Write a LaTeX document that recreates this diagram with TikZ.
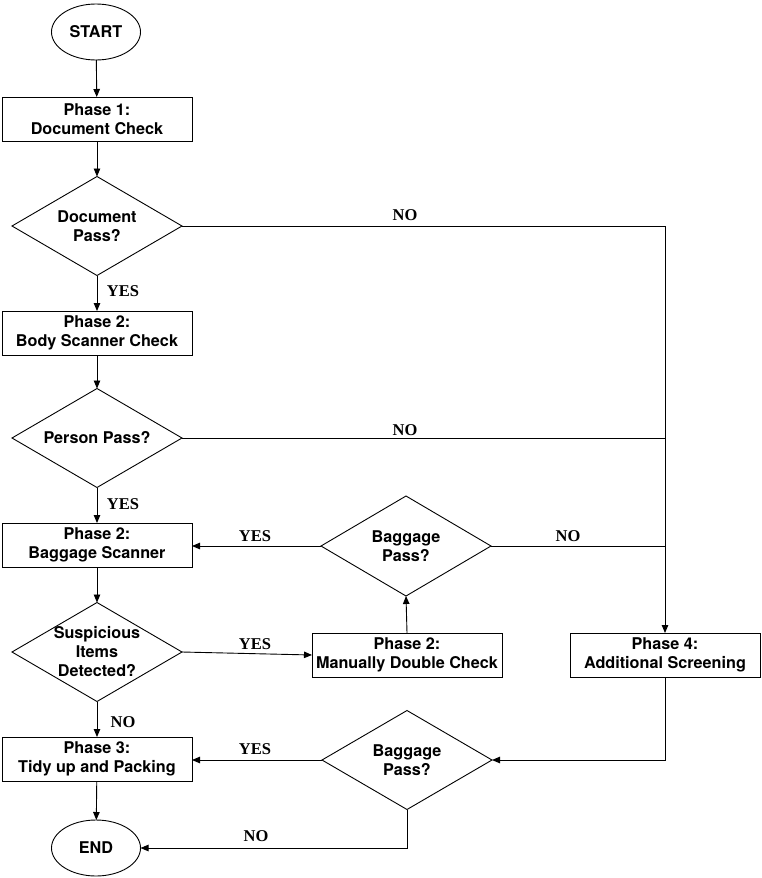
\documentclass[tikz,border=0pt]{standalone}
\usepackage{fontspec}
\setmainfont{TeX Gyre Heros}
\newfontfamily\lblfont{Liberation Serif}
\usetikzlibrary{shapes.geometric,arrows.meta}
\begin{document}
\begin{tikzpicture}[x=1pt,y=-1pt,
  every node/.style={font=\fontsize{16.2}{19}\selectfont\bfseries, align=center, inner sep=0pt, outer sep=0pt},
  box/.style={draw, line width=0.9pt, minimum width=190pt, minimum height=44pt},
  dec/.style={draw, line width=0.9pt, diamond, minimum width=170pt, minimum height=99pt, label={center:#1}},
  term/.style={draw, line width=0.9pt, ellipse, minimum width=89pt, minimum height=56pt},
  lbl/.style={font=\fontsize{16.5}{18}\selectfont\lblfont\bfseries},
  conn/.style={line width=0.9pt},
  arr/.style={conn, -{Triangle[width=6.5pt,length=8pt]}}
]
\useasboundingbox (0,0) rectangle (761,878);
\node[term] (start) at (96,32) {START};
\node[box] (p1) at (97,119) {Phase 1:\\Document Check};
\node[dec={Document\\Pass?}] (dp) at (97,226) {};
\node[box] (p2) at (97,333) {Phase 2:\\Body Scanner Check};
\node[dec={Person Pass?}] (pp) at (97,438) {};
\node[box] (bs) at (97,545) {Phase 2:\\Baggage Scanner};
\node[dec={Suspicious\\Items\\Detected?}] (si) at (97,652) {};
\node[box] (p3) at (97,759) {Phase 3:\\Tidy up and Packing};
\node[term] (end) at (96,848) {END};
\node[dec={Baggage\\Pass?}, minimum height=100pt] (bp1) at (406,546) {};
\node[box] (md) at (407,655) {Phase 2:\\Manually Double Check};
\node[box] (p4) at (665,655) {Phase 4:\\Additional Screening};
\node[dec={Baggage\\Pass?}] (bp2) at (407,760) {};

\draw[arr] (start) -- (p1);
\draw[arr] (p1) -- (dp);
\draw[arr] (dp) -- (p2);
\draw[arr] (p2) -- (pp);
\draw[arr] (pp) -- (bs);
\draw[arr] (bs) -- (si);
\draw[arr] (si) -- (p3);
\draw[arr] (p3) -- (end);
\draw[arr] (dp.east) -| (p4.north);
\draw[conn] (pp.east) -- (pp.east -| p4.north);
\draw[conn] (bp1.east) -- (bp1.east -| p4.north);
\draw[arr] (bp1.west) -- (bp1.west -| bs.east);
\draw[arr] (si.east) -- (md.west);
\draw[arr] (md.north) -- (bp1.south);
\draw[arr] (p4.south) |- (bp2.east);
\draw[arr] (bp2.west) -- (bp2.west -| p3.east);
\draw[arr] (bp2.south) |- (end.east);

\node[lbl] (y1) at (123,291) {YES};
\node[lbl] (y2) at (123,504) {YES};
\node[lbl] (n1) at (123,722) {NO};
\node[lbl] (n2) at (405,215) {NO};
\node[lbl] (n3) at (405,430) {NO};
\node[lbl] (n4) at (568,536) {NO};
\node[lbl] (y3) at (255,536) {YES};
\node[lbl] (y4) at (255,644) {YES};
\node[lbl] (y5) at (255,749) {YES};
\node[lbl] (n5) at (256,836) {NO};
\end{tikzpicture}
\end{document}
